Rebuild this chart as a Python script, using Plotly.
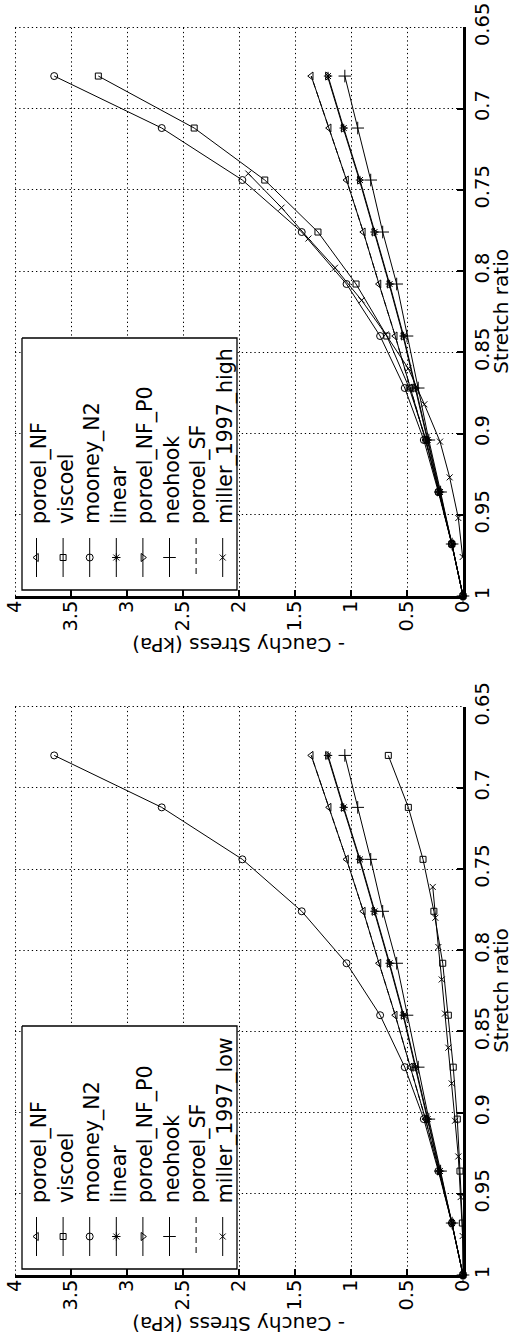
import math
import plotly.graph_objects as go

# ---------------- data ----------------
stretch = [1.000, 0.968, 0.936, 0.904, 0.872, 0.840, 0.808, 0.776, 0.744, 0.712, 0.680]
miller_stretch = [0.976, 0.952, 0.927, 0.905, 0.882, 0.860, 0.839, 0.818, 0.798, 0.780, 0.761, 0.740]

poroel_NF    = [0, 0.100, 0.215, 0.335, 0.470, 0.605, 0.750, 0.890, 1.040, 1.195, 1.355]
mooney_N2    = [0, 0.100, 0.220, 0.350, 0.520, 0.740, 1.040, 1.440, 1.970, 2.690, 3.650]
linear       = [0, 0.098, 0.205, 0.315, 0.425, 0.530, 0.655, 0.790, 0.920, 1.065, 1.205]
poroel_NF_P0 = [0, 0.100, 0.210, 0.320, 0.430, 0.535, 0.660, 0.795, 0.925, 1.070, 1.210]
neohook      = [0, 0.097, 0.200, 0.305, 0.400, 0.500, 0.592, 0.717, 0.824, 0.940, 1.055]
poroel_SF    = [0, 0.100, 0.215, 0.335, 0.470, 0.605, 0.750, 0.890, 1.040, 1.195, 1.355]

viscoel_high = [0, 0.100, 0.215, 0.330, 0.480, 0.680, 0.955, 1.295, 1.770, 2.400, 3.256]
viscoel_low  = [0, 0.006, 0.027, 0.051, 0.087, 0.131, 0.181, 0.260, 0.357, 0.488, 0.667]

miller_1997_high = [0.003, 0.042, 0.119, 0.205, 0.345, 0.488, 0.690, 0.905, 1.143, 1.380, 1.620, 1.917]
miller_1997_low  = [0.003, 0.021, 0.042, 0.071, 0.101, 0.131, 0.161, 0.190, 0.220, 0.247, 0.270]

stress_ticks = [0, 0.5, 1, 1.5, 2, 2.5, 3, 3.5, 4]
stretch_ticks = [0.65, 0.7, 0.75, 0.8, 0.85, 0.9, 0.95, 1]

# ---------------- styles / layout constants ----------------
W, H = 515, 1342
PLOT_L, PLOT_R = 15, 463
PANELS_PX = [(27.3, 596.0), (706.7, 1275.0)]   # (top, bottom) pixel rows of each panel
X_RANGE = [4, 0]
Y_RANGE = [1, 0.65]
FONT = "DejaVu Sans"

styles = {
    "poroel_NF":    dict(symbol="triangle-left-open", size=7, dash="solid"),
    "viscoel":      dict(symbol="square-open", size=6, dash="solid"),
    "mooney_N2":    dict(symbol="circle-open", size=7, dash="solid"),
    "linear":       dict(symbol="asterisk-open", size=7, dash="solid"),
    "poroel_NF_P0": dict(symbol="triangle-right-open", size=7, dash="solid"),
    "neohook":      dict(symbol="cross-thin-open", size=9, dash="solid"),
    "poroel_SF":    dict(symbol=None, size=0, dash="6px,4px"),
    "miller":       dict(symbol="x-thin-open", size=6, dash="solid"),
}

panels = [
    dict(name="miller_1997_high", viscoel=viscoel_high, miller=miller_1997_high, xa="x", ya="y",
         legend_top=258),
    dict(name="miller_1997_low", viscoel=viscoel_low, miller=miller_1997_low, xa="x2", ya="y2",
         legend_top=249),
]

fig = go.Figure()

for p in panels:
    series = [
        ("poroel_NF", stretch, poroel_NF),
        ("viscoel", stretch, p["viscoel"]),
        ("mooney_N2", stretch, mooney_N2),
        ("linear", stretch, linear),
        ("poroel_NF_P0", stretch, poroel_NF_P0),
        ("neohook", stretch, neohook),
        ("poroel_SF", stretch, poroel_SF),
        ("miller", miller_stretch[:len(p["miller"])], p["miller"]),
    ]
    for key, s, v in series:
        st = styles[key]
        kw = dict(x=v, y=s, xaxis=p["xa"], yaxis=p["ya"], showlegend=False, cliponaxis=False,
                  line=dict(color="black", width=1, dash=st["dash"]))
        if st["symbol"]:
            kw["mode"] = "lines+markers"
            kw["marker"] = dict(symbol=st["symbol"], size=st["size"], color="black",
                                line=dict(color="black", width=1))
        else:
            kw["mode"] = "lines"
        fig.add_trace(go.Scatter(**kw))


def crisp(v):
    return math.floor(v) + 0.5


# ---------------- dotted grid (as shapes, so the edge lines are drawn too) ----------------
shapes = []
GRID = dict(color="black", width=1, dash="1.3px,2.9px")
for ptop, pbot in PANELS_PX:
    for v in stress_ticks:
        if v == X_RANGE[1]:
            continue
        px = crisp(PLOT_R - (PLOT_R - PLOT_L) * (v - X_RANGE[1]) / (X_RANGE[0] - X_RANGE[1]))
        shapes.append(dict(type="line", xref="paper", yref="paper", layer="below",
                           x0=px / W, x1=px / W, y0=1 - round(pbot) / H, y1=1 - round(ptop) / H,
                           line=GRID))
    for s in stretch_ticks:
        if s == Y_RANGE[0]:
            continue
        py = crisp(pbot - (pbot - ptop) * (Y_RANGE[0] - s) / (Y_RANGE[0] - Y_RANGE[1]))
        shapes.append(dict(type="line", xref="paper", yref="paper", layer="below",
                           x0=PLOT_L / W, x1=PLOT_R / W, y0=1 - py / H, y1=1 - py / H, line=GRID))

# ---------------- legends (drawn on a full-figure pixel overlay) ----------------
annotations = []
legend_labels_base = ["poroel_NF", "viscoel", "mooney_N2", "linear", "poroel_NF_P0",
                      "neohook", "poroel_SF"]
legend_keys = ["poroel_NF", "viscoel", "mooney_N2", "linear", "poroel_NF_P0",
               "neohook", "poroel_SF", "miller"]
for p, (ptop, pbot) in zip(panels, PANELS_PX):
    L, R = 22, 237
    T, B = pbot - p["legend_top"], pbot - 6
    fig.add_trace(go.Scatter(x=[L, R, R, L, L], y=[T, T, B, B, T], mode="lines", fill="toself",
                             fillcolor="white", line=dict(color="black", width=1.3),
                             xaxis="x3", yaxis="y3", showlegend=False, hoverinfo="skip"))
    labels = legend_labels_base + [p["name"]]
    for i, (key, lab) in enumerate(zip(legend_keys, labels)):
        cx = 36.5 + i * 26.6
        st = styles[key]
        fig.add_trace(go.Scatter(x=[cx, cx], y=[pbot - 58, pbot - 19], mode="lines",
                                 line=dict(color="black", width=1, dash=st["dash"]),
                                 xaxis="x3", yaxis="y3", showlegend=False, hoverinfo="skip"))
        if st["symbol"]:
            fig.add_trace(go.Scatter(x=[cx], y=[pbot - 38.5], mode="markers",
                                     marker=dict(symbol=st["symbol"], size=st["size"], color="black",
                                                 line=dict(color="black", width=1)),
                                     xaxis="x3", yaxis="y3", showlegend=False, hoverinfo="skip"))
        annotations.append(dict(text=lab, x=cx + 2.5, y=pbot - 70, xref="x3", yref="y3",
                                xanchor="center", yanchor="bottom", textangle=-90, showarrow=False,
                                font=dict(family=FONT, size=20.5, color="black")))
    # axis titles
    annotations.append(dict(text="Stretch ratio", x=501 / W, y=1 - (ptop + pbot) / 2 / H,
                            xref="paper", yref="paper", xanchor="center", yanchor="middle",
                            textangle=-90, showarrow=False, borderpad=0,
                            font=dict(family=FONT, size=20, color="black")))
    annotations.append(dict(text="- Cauchy Stress (kPa)", x=(PLOT_L + PLOT_R) / 2 / W,
                            y=1 - (pbot + 49) / H, xref="paper", yref="paper",
                            xanchor="center", yanchor="middle", textangle=180, showarrow=False,
                            borderpad=0, font=dict(family=FONT, size=20, color="black")))

xdom = [PLOT_L / W, PLOT_R / W]


def stress_axis(anchor):
    return dict(domain=xdom, anchor=anchor, range=X_RANGE, tickvals=stress_ticks,
                ticktext=[f"{v:g}" for v in stress_ticks], tickangle=-90, automargin=False,
                showline=True, linecolor="black", linewidth=2.5, mirror=False,
                ticks="inside", ticklen=6, tickwidth=1.5, tickcolor="black",
                showgrid=False, zeroline=False, ticklabelstandoff=-6,
                tickfont=dict(family=FONT, size=19.5, color="black"))


def stretch_axis(anchor, dom):
    return dict(domain=dom, anchor=anchor, side="right", range=Y_RANGE, tickvals=stretch_ticks,
                ticktext=[f"{v:g}" for v in stretch_ticks], tickangle=-90, automargin=False,
                showline=True, linecolor="black", linewidth=2.5, mirror=False,
                ticks="inside", ticklen=6, tickwidth=1.5, tickcolor="black",
                showgrid=False, zeroline=False, ticklabelstandoff=0,
                tickfont=dict(family=FONT, size=19.5, color="black"))


doms = [[1 - b / H, 1 - t / H] for t, b in PANELS_PX]

fig.update_layout(
    width=W, height=H, margin=dict(l=0, r=0, t=0, b=0, autoexpand=False),
    paper_bgcolor="white", plot_bgcolor="rgba(0,0,0,0)",
    showlegend=False,
    xaxis=stress_axis("y"), yaxis=stretch_axis("x", doms[0]),
    xaxis2=stress_axis("y2"), yaxis2=stretch_axis("x2", doms[1]),
    xaxis3=dict(domain=[0, 1], anchor="y3", range=[0, W], visible=False, fixedrange=True),
    yaxis3=dict(domain=[0, 1], anchor="x3", range=[H, 0], visible=False, fixedrange=True),
    annotations=annotations, shapes=shapes,
    font=dict(family=FONT, color="black"),
)

fig.write_html("out.html")
